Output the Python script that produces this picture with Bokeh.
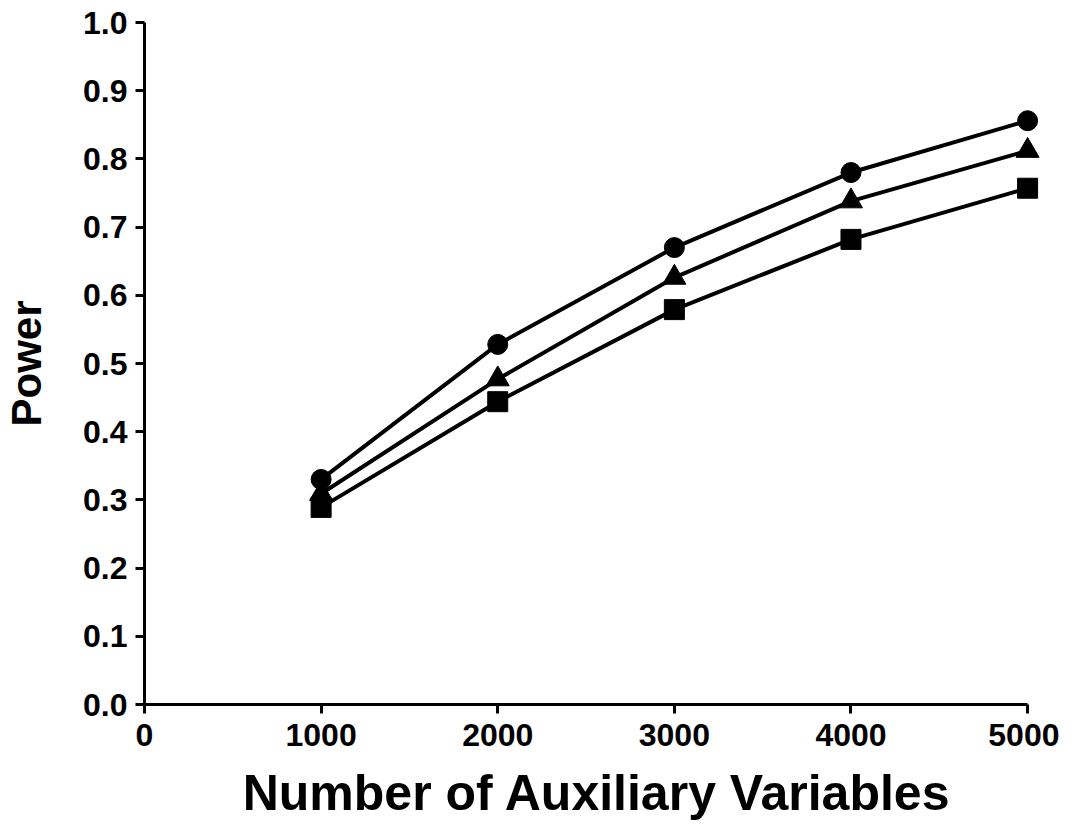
from bokeh.plotting import figure
from bokeh.models import FixedTicker, PrintfTickFormatter, Range1d
from bokeh.embed import file_html
from bokeh.resources import INLINE

# Data
n_aux = [1000, 2000, 3000, 4000, 5000]
power_circle = [0.330, 0.528, 0.670, 0.780, 0.856]
power_triangle = [0.309, 0.477, 0.626, 0.738, 0.812]
power_square = [0.289, 0.444, 0.579, 0.682, 0.757]

x_ticks = [0, 1000, 2000, 3000, 4000, 5000]
y_ticks = [0.0, 0.1, 0.2, 0.3, 0.4, 0.5, 0.6, 0.7, 0.8, 0.9, 1.0]

FONT = "Liberation Sans"

p = figure(width=1059, height=827, output_backend="svg", toolbar_location=None,
           x_range=Range1d(0, 5124), y_range=Range1d(0, 1.0),
           min_border_left=137, min_border_top=22, min_border_bottom=123,
           min_border_right=10)
p.outline_line_color = None
p.grid.visible = False
p.background_fill_color = "white"
p.border_fill_color = "white"

lw = 4
p.line(n_aux, power_circle, line_color="black", line_width=lw)
p.line(n_aux, power_triangle, line_color="black", line_width=lw)
p.line(n_aux, power_square, line_color="black", line_width=lw)
p.scatter(n_aux, power_circle, marker="circle", size=20, fill_color="black", line_color="black")
p.scatter(n_aux, power_triangle, marker="triangle", size=23, fill_color="black", line_color="black")
p.scatter(n_aux, power_square, marker="square", size=20, fill_color="black", line_color="black")

xa = p.xaxis[0]
xa.ticker = FixedTicker(ticks=x_ticks)
xa.bounds = (0, 5000)
xa.axis_label = "Number of Auxiliary Variables"
xa.axis_label_text_font = FONT
xa.axis_label_text_font_style = "bold"
xa.axis_label_text_font_size = "50px"
xa.axis_label_standoff = 16
xa.major_label_standoff = 10

ya = p.yaxis[0]
ya.ticker = FixedTicker(ticks=y_ticks)
ya.formatter = PrintfTickFormatter(format="%.1f")
ya.bounds = (0, 1.0)
ya.axis_label = "Power"
ya.axis_label_text_font = FONT
ya.axis_label_text_font_style = "bold"
ya.axis_label_text_font_size = "42px"
ya.axis_label_standoff = 30
ya.major_label_standoff = 8

for ax in (xa, ya):
    ax.axis_line_width = 3
    ax.axis_line_color = "black"
    ax.major_tick_line_width = 3
    ax.major_tick_line_color = "black"
    ax.major_tick_in = 0
    ax.major_tick_out = 9
    ax.minor_tick_line_color = None
    ax.major_label_text_font = FONT
    ax.major_label_text_font_style = "bold"
    ax.major_label_text_font_size = "32px"
    ax.major_label_text_color = "black"
    ax.axis_label_text_color = "black"

open("out.html", "w").write(file_html(p, INLINE))
